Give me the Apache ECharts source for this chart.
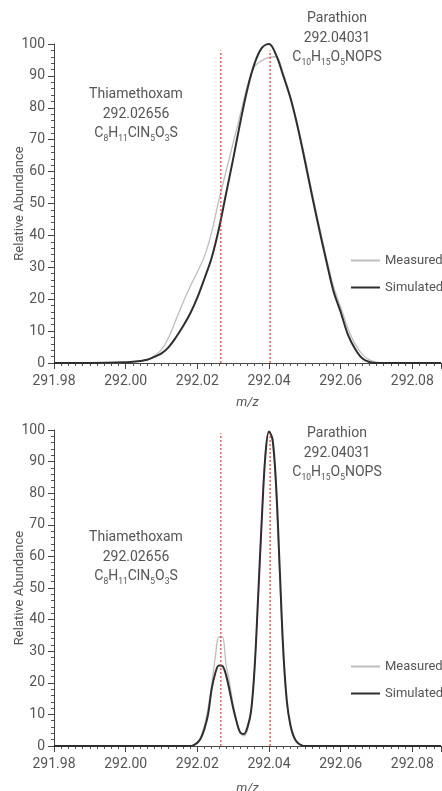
<!DOCTYPE html>
<html>
<head>
<meta charset="utf-8">
<script src="https://cdn.jsdelivr.net/npm/echarts@6/dist/echarts.min.js"></script>
<style>
  html, body { margin: 0; padding: 0; background: #fff; }
  #chart { width: 442px; height: 791px; }
</style>
</head>
<body>
<div id="chart"></div>
<script>
// ---- data ----
// top panel: m/z positions and relative abundance
const topMz = [291.98, 291.99, 292.000, 292.002, 292.004, 292.006, 292.008, 292.010, 292.012, 292.014,
  292.016, 292.018, 292.020, 292.022, 292.024, 292.026, 292.028, 292.030, 292.032, 292.034,
  292.036, 292.038, 292.040, 292.042, 292.044, 292.046, 292.048, 292.050, 292.052, 292.054,
  292.056, 292.058, 292.060, 292.062, 292.064, 292.066, 292.068, 292.070, 292.072, 292.080, 292.088]
const topMeasured = [0, 0, 0.2, 0.4, 0.6, 1.1, 2.3, 4.2, 8, 13.5,
  19, 24, 28.5, 33.5, 41, 51, 60, 69, 78, 87,
  93, 94.8, 95.8, 96, 90.5, 83.5, 74.5, 64.5, 53.5, 43,
  33, 24, 17.5, 11, 6, 2.8, 1, 0.3, 0, 0, 0]
const topSimulated = [0, 0, 0.2, 0.4, 0.6, 1.0, 1.9, 3.0, 5.0, 8.0,
  11.5, 15.5, 20.5, 26.5, 33, 42, 53, 64, 75.5, 86,
  94, 98.8, 100, 96.5, 90, 83, 74, 63.5, 52.5, 42,
  32, 22.5, 16, 9, 4.5, 1.5, 0.3, 0, 0, 0, 0]

// bottom panel
const botMz = [291.98, 292.017, 292.018, 292.019, 292.020, 292.021, 292.022, 292.023, 292.024, 292.025,
  292.026, 292.027, 292.028, 292.029, 292.030, 292.031, 292.032, 292.033, 292.034, 292.035,
  292.036, 292.037, 292.038, 292.039, 292.040, 292.041, 292.042, 292.043, 292.044, 292.045,
  292.046, 292.047, 292.048, 292.049, 292.050, 292.051, 292.088]
const botMeasured = [0, 0, 0, 0.3, 1.2, 3, 6.5, 12, 19.5, 28,
  34.5, 34.5, 26, 20, 13, 7.5, 4.2, 3.2, 5, 11,
  25, 47, 72, 93, 99.5, 96, 80, 54, 28, 13,
  6, 2.5, 1, 0.3, 0, 0, 0]
const botSimulated = [0, 0, 0, 0.3, 1, 2.5, 5.5, 10, 18, 23,
  25.5, 25.3, 22.5, 17.5, 12, 7.5, 4.2, 3.8, 6, 11,
  25, 48, 72, 92, 99.5, 97, 82, 56, 30, 14,
  6.5, 2.7, 1, 0.3, 0, 0, 0]

// reference masses (red dashed lines) and their top ends per panel
const refMz = [292.02656, 292.04031]
const refTop = [98, 99]

const xRange = [291.98, 292.088]
const seriesNames = ['Measured', 'Simulated']

const FONT = "Roboto, 'Liberation Sans', sans-serif"
const TXT = '#555'
const RED = '#e4332b'

const pairs = (xs, ys) => xs.map((x, i) => [x, ys[i]])

function makeX (idx) {
  return {
    type: 'value',
    gridIndex: idx,
    min: xRange[0],
    max: xRange[1],
    interval: 0.02,
    name: 'm/z',
    nameLocation: 'middle',
    nameGap: idx === 0 ? 33 : 36,
    nameMoveOverlap: false,
    nameTextStyle: { fontStyle: 'italic', fontSize: 13, color: TXT, fontFamily: FONT },
    axisLine: { lineStyle: { color: '#444', width: 1 } },
    axisTick: { length: 6, lineStyle: { color: '#444' } },
    minorTick: { show: true, splitNumber: 10, length: 3, lineStyle: { color: '#555' } },
    splitLine: { show: false },
    axisLabel: {
      formatter: v => v.toFixed(2),
      showMaxLabel: false,
      margin: 11,
      fontSize: 14,
      color: TXT,
      fontFamily: FONT
    }
  }
}

function makeY (idx) {
  return {
    type: 'value',
    gridIndex: idx,
    min: 0,
    max: 100,
    interval: 10,
    name: 'Relative Abundance',
    nameLocation: 'middle',
    nameGap: 28,
    nameMoveOverlap: false,
    nameTextStyle: { fontSize: 13, color: TXT, fontFamily: FONT },
    axisLine: { show: true, lineStyle: { color: '#444', width: 1 } },
    axisTick: { show: true, length: 6, lineStyle: { color: '#444' } },
    minorTick: { show: true, splitNumber: 5, length: 3, lineStyle: { color: '#555' } },
    splitLine: { show: false },
    axisLabel: { margin: 9, fontSize: 14, color: TXT, fontFamily: FONT }
  }
}

function makeSeries (idx, mz, measured, simulated) {
  const list = [
    {
      name: seriesNames[0],
      type: 'line',
      xAxisIndex: idx,
      yAxisIndex: idx,
      data: pairs(mz, measured),
      symbol: 'none',
      smooth: 0.35,
      lineStyle: { color: '#bdbdbd', width: 1.3 },
      itemStyle: { color: '#bdbdbd' },
      z: 2
    },
    {
      name: seriesNames[1],
      type: 'line',
      xAxisIndex: idx,
      yAxisIndex: idx,
      data: pairs(mz, simulated),
      symbol: 'none',
      smooth: 0.35,
      lineStyle: { color: '#2e2e2e', width: 2 },
      itemStyle: { color: '#2e2e2e' },
      z: 3
    }
  ]
  // red dashed reference lines, one small series each
  refMz.forEach(m => {
    list.push({
      type: 'line',
      xAxisIndex: idx,
      yAxisIndex: idx,
      data: [[m, 0], [m, refTop[idx]]],
      symbol: 'none',
      silent: true,
      lineStyle: { color: RED, type: [2, 2], width: 1.2 },
      z: 4
    })
  })
  return list
}

function makeLegend (top) {
  return {
    data: seriesNames,
    orient: 'vertical',
    left: 345,
    top: top,
    itemWidth: 29,
    itemHeight: 14,
    itemGap: 14,
    selectedMode: false,
    itemStyle: { opacity: 0 },
    textStyle: { fontSize: 13, color: TXT, fontFamily: FONT }
  }
}

const rich = {
  n: { fontSize: 14, lineHeight: 19.5, fill: TXT, color: TXT, fontFamily: FONT },
  s: { fontSize: 8.5, lineHeight: 11, verticalAlign: 'bottom', fill: TXT, color: TXT, fontFamily: FONT }
}
const thiaText = '{n|Thiamethoxam}\n{n|292.02656}\n{n|C}{s|8}{n|H}{s|11}{n|ClN}{s|5}{n|O}{s|3}{n|S}'
const paraText = '{n|Parathion}\n{n|292.04031}\n{n|C}{s|10}{n|H}{s|15}{n|O}{s|5}{n|NOPS}'

function note (text, x, y) {
  return {
    type: 'text',
    x: x,
    y: y,
    style: {
      text: text,
      rich: rich,
      textAlign: 'center',
      textVerticalAlign: 'middle',
      fill: TXT
    }
  }
}

const chart = echarts.init(document.getElementById('chart'), null, { renderer: 'canvas' })
chart.setOption({
  animation: false,
  backgroundColor: '#fff',
  grid: [
    { left: 54, right: 1, top: 44, height: 319, outerBoundsMode: 'none', containLabel: false },
    { left: 54, right: 1, top: 430, height: 316, outerBoundsMode: 'none', containLabel: false }
  ],
  xAxis: [makeX(0), makeX(1)],
  yAxis: [makeY(0), makeY(1)],
  legend: [makeLegend(249), makeLegend(655)],
  series: [
    ...makeSeries(0, topMz, topMeasured, topSimulated),
    ...makeSeries(1, botMz, botMeasured, botSimulated)
  ],
  graphic: [
    note(thiaText, 136, 114),
    note(paraText, 337, 38),
    note(thiaText, 136, 557),
    note(paraText, 337, 453)
  ]
})
</script>
</body>
</html>
